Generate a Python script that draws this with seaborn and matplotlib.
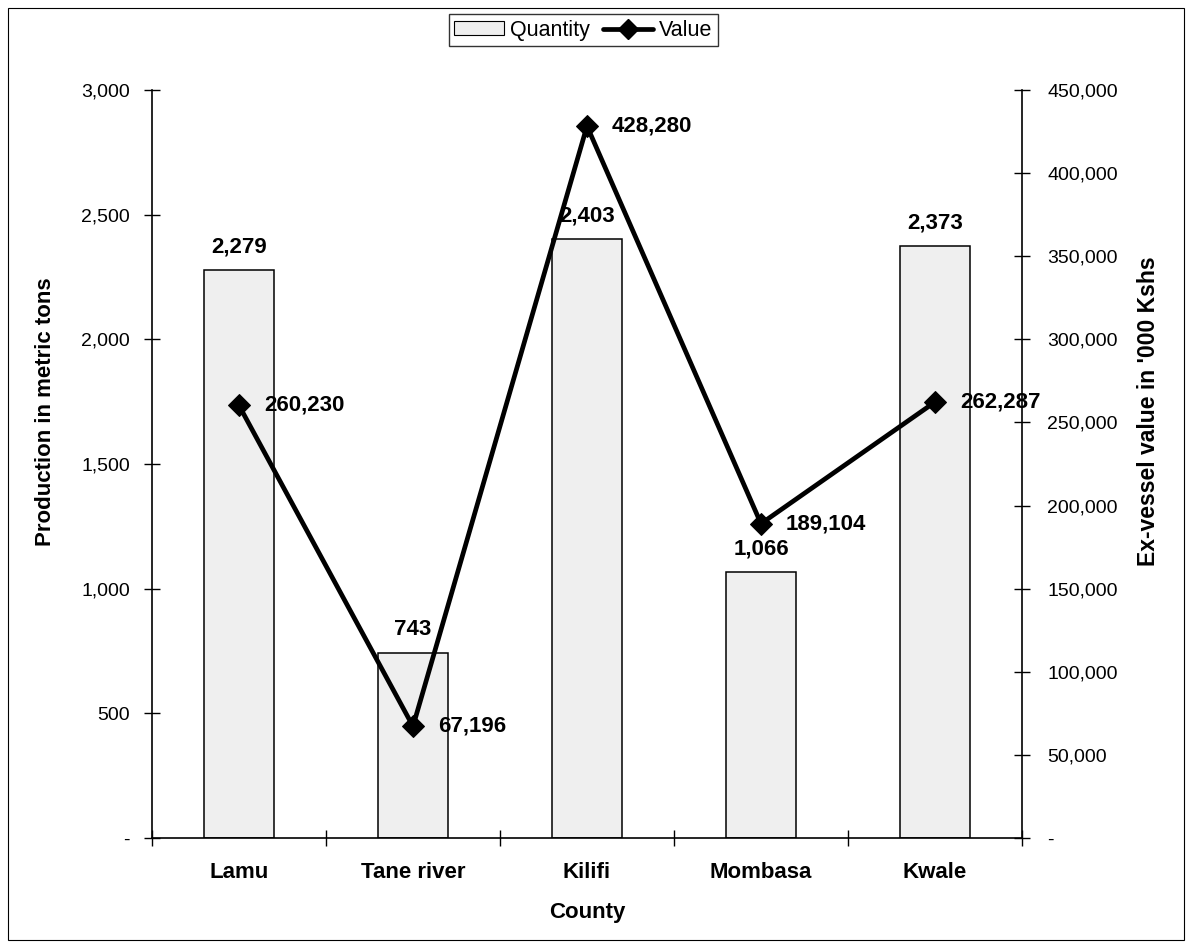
import matplotlib
matplotlib.use("Agg")
import matplotlib.pyplot as plt
import matplotlib.ticker as mticker
from matplotlib.patches import Patch
from matplotlib.lines import Line2D
import seaborn as sns
import pandas as pd

counties = ["Lamu", "Tane river", "Kilifi", "Mombasa", "Kwale"]
quantity = [2279, 743, 2403, 1066, 2373]
value = [260230, 67196, 428280, 189104, 262287]

sns.set_style("white")
plt.rcParams["font.family"] = ["Liberation Sans", "DejaVu Sans"]
for key in ("text.color", "axes.labelcolor", "xtick.color", "ytick.color"):
    plt.rcParams[key] = "black"

BAR_FACE = "#efefef"

df = pd.DataFrame({"County": counties, "Quantity": quantity, "Value": value})

fig = plt.figure(figsize=(11.92, 9.48), dpi=100)
# thin frame round the whole figure
fig.patches.append(plt.Rectangle((0.007, 0.008), 0.986, 0.984, transform=fig.transFigure,
                                 fill=False, edgecolor="black", linewidth=0.8))

ax = fig.add_axes([0.1275, 0.116, 0.7299, 0.7891])
sns.barplot(data=df, x="County", y="Quantity", ax=ax, color=BAR_FACE,
            edgecolor="black", linewidth=1.1, width=0.40, saturation=1)

ax.set_xlim(-0.5, 4.5)
ax.set_ylim(0, 3000)
ax.yaxis.set_major_locator(mticker.MultipleLocator(500))
ax.yaxis.set_major_formatter(mticker.FuncFormatter(lambda v, p: "-" if v == 0 else f"{v:,.0f}"))

ax2 = ax.twinx()
sns.lineplot(x=list(range(len(counties))), y=value, ax=ax2, color="black", linewidth=3.4,
             marker="D", markersize=11, markeredgecolor="black")
ax2.set_ylim(0, 450000)
ax2.yaxis.set_major_locator(mticker.MultipleLocator(50000))
ax2.yaxis.set_major_formatter(mticker.FuncFormatter(lambda v, p: "-" if v == 0 else f"{v:,.0f}"))
ax2.set_xlim(-0.5, 4.5)

for a in (ax, ax2):
    a.spines["top"].set_visible(False)
    for s in ("left", "right", "bottom"):
        a.spines[s].set_linewidth(1.2)
        a.spines[s].set_color("black")
ax.spines["right"].set_visible(False)
ax2.spines["left"].set_visible(False)
ax2.spines["bottom"].set_visible(False)

ax.tick_params(axis="y", direction="inout", length=12, width=1.0, labelsize=14, left=True, pad=10)
ax2.tick_params(axis="y", direction="inout", length=12, width=1.0, labelsize=14, right=True, pad=12)

# category labels centred on bars, tick marks on category boundaries
ax.set_xticks(range(len(counties)))
ax.set_xticklabels(counties, fontsize=16, fontweight="bold")
ax.tick_params(axis="x", which="major", length=0, pad=17)
ax.set_xticks([i - 0.5 for i in range(len(counties) + 1)], minor=True)
ax.tick_params(axis="x", which="minor", direction="inout", length=12, width=1.0, bottom=True)

ax.set_xlabel("County", fontsize=16, fontweight="bold", labelpad=14)
ax.set_ylabel("Production in metric tons", fontsize=16, fontweight="bold", labelpad=18)
ax2.set_ylabel("Ex-vessel value in '000 Kshs", fontsize=16.5, fontweight="bold", labelpad=14)
ax.yaxis.label.set_y(0.57)
ax2.yaxis.label.set_y(0.57)

for i, q in enumerate(quantity):
    ax.annotate(f"{q:,}", (i, q), xytext=(0, 9), textcoords="offset points",
                ha="center", va="bottom", fontsize=16, fontweight="bold")
for i, v in enumerate(value):
    ax2.annotate(f"{v:,}", (i, v), xytext=(18, 0), textcoords="offset points",
                 ha="left", va="center", fontsize=16, fontweight="bold")

handles = [Patch(facecolor=BAR_FACE, edgecolor="black", linewidth=0.8),
           Line2D([0], [0], color="black", linewidth=3.4, marker="D", markersize=10)]
leg = fig.legend(handles, ["Quantity", "Value"], loc="center", bbox_to_anchor=(0.4895, 0.968),
                 ncol=2, frameon=True, fancybox=False, edgecolor="black", fontsize=15.5,
                 handlelength=2.3, handleheight=0.6, handletextpad=0.3, columnspacing=0.6,
                 borderpad=0.25, borderaxespad=0)
leg.get_frame().set_linewidth(1.0)

fig.savefig("out.png", dpi=100)
